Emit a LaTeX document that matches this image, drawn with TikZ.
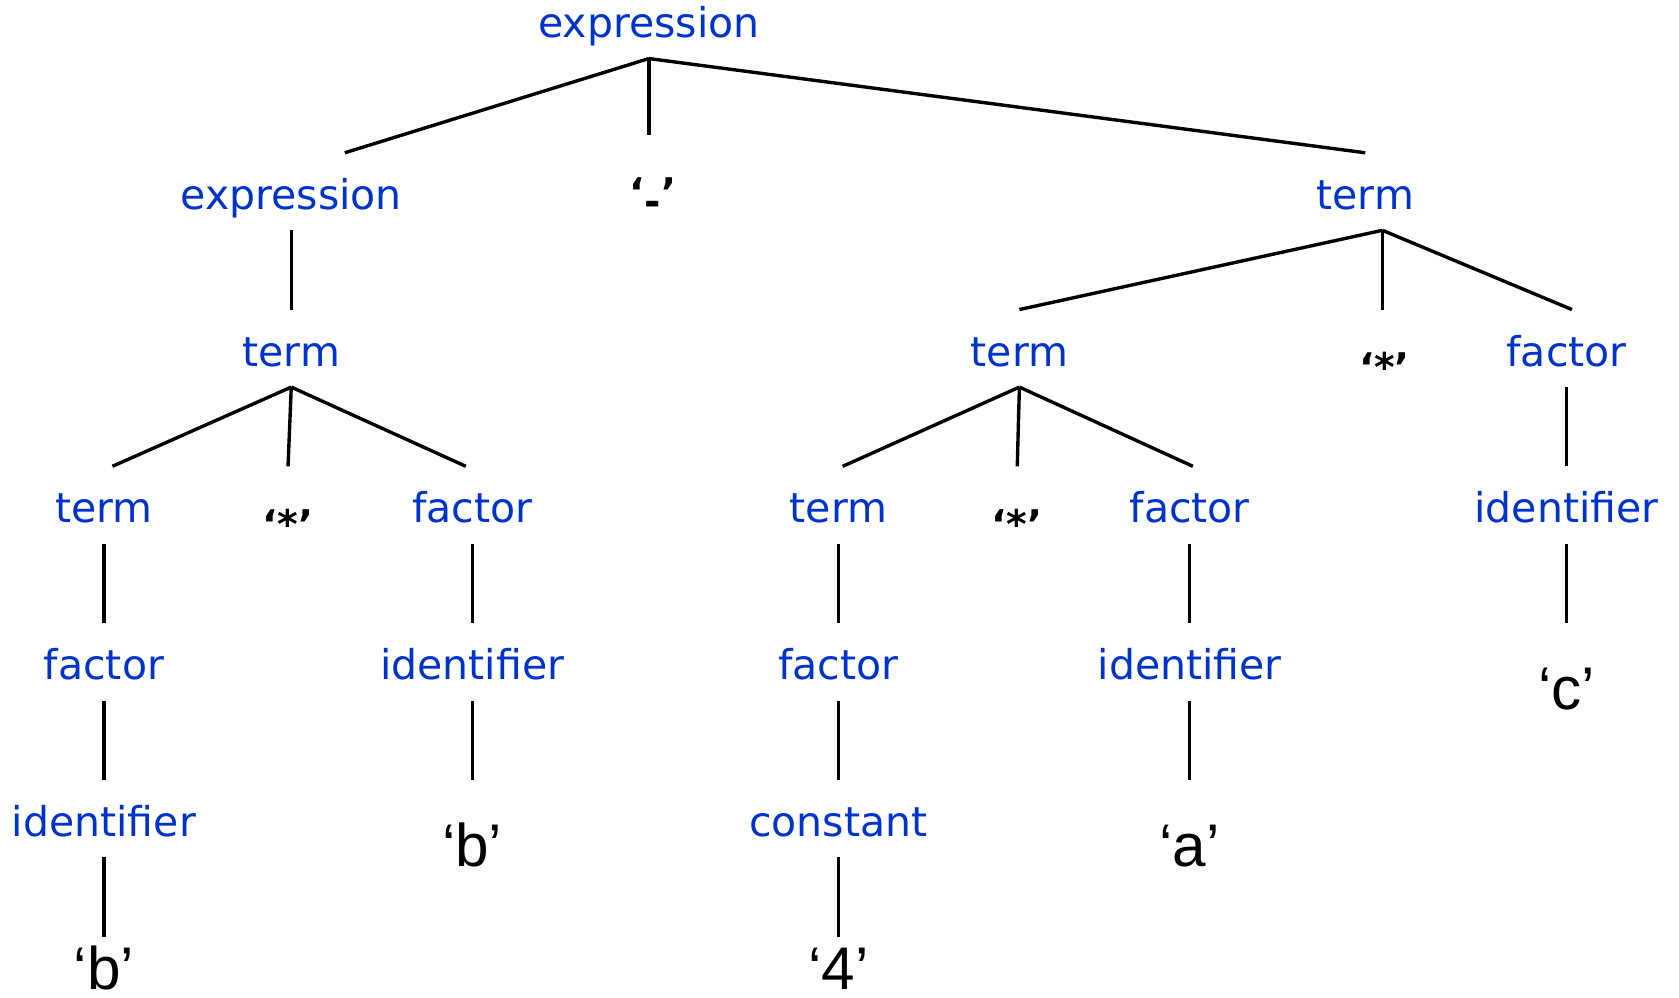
\documentclass[tikz,border=0pt]{standalone}
\usepackage{fontspec}
\usepackage{xcolor}
\usepackage{tikz}
\usetikzlibrary{positioning}
\newfontfamily\catfont{DejaVu Sans}
\newfontfamily\leaffont{Liberation Sans}
\definecolor{catblue}{RGB}{0,51,204}

\begin{document}
\begin{tikzpicture}[
  node distance=7.4mm,
  cat/.style={text=catblue, font=\catfont\fontsize{10.9}{13}\selectfont, text height=12.1pt, text depth=2.7pt, inner ysep=2.7pt, inner xsep=0pt},
  tok/.style={font=\catfont\bfseries\fontsize{10.5}{13}\selectfont, text height=16.3pt, text depth=0pt, inner ysep=2.7pt, inner xsep=0pt},
  leaf/.style={font=\leaffont\fontsize{16}{19}\selectfont, text height=22.7pt, text depth=0pt, inner ysep=0pt, inner xsep=0pt},
  link/.style={line width=0.9pt}
]
  \useasboundingbox (0,0) rectangle (15.68,-9.32);

  \node[cat, anchor=base] (expr) at (6.06,-0.35) {expression};
  \node[cat, below=8.8mm of expr, xshift=-33.4mm] (exprL) {expression};
  \node[tok, below=7.1mm of expr, xshift=0.4mm] (minus) {‘\raisebox{-0.22em}{-}’};
  \node[cat, below=8.8mm of expr, xshift=66.9mm] (termR) {term};

  % left side
  \node[cat, below=of exprL] (termL) {term};
  \node[cat, below=of termL, xshift=-17.5mm] (termLL) {term};
  \node[tok, below=of termL, xshift=-0.3mm] (starL) {‘*’};
  \node[cat, below=of termL, xshift=16.9mm] (factorL) {factor};
  \node[cat, below=of termLL] (factorLL) {factor};
  \node[cat, below=of factorLL] (identLL) {identifier};
  \node[leaf, below=of identLL, text height=13.8pt] (bLL) {‘b’};
  \node[cat, below=of factorL] (identL) {identifier};
  \node[leaf, below=of identL] (bL) {‘b’};

  % right side
  \node[cat, below=of termR, xshift=-32.3mm] (termM) {term};
  \node[tok, below=of termR, xshift=1.8mm] (starR) {‘*’};
  \node[cat, below=of termR, xshift=18.8mm] (factorR) {factor};
  \node[cat, below=of factorR] (identR) {identifier};
  \node[leaf, below=of identR] (cR) {‘c’};
  \node[cat, below=of termM, xshift=-16.9mm] (termMM) {term};
  \node[tok, below=of termM, xshift=-0.2mm] (starM) {‘*’};
  \node[cat, below=of termM, xshift=15.9mm] (factorM) {factor};
  \node[cat, below=of termMM] (factorMM) {factor};
  \node[cat, below=of factorMM] (constMM) {constant};
  \node[leaf, below=of constMM, text height=13.8pt] (fourMM) {‘4’};
  \node[cat, below=of factorM] (identM) {identifier};
  \node[leaf, below=of identM] (aM) {‘a’};

  \draw[link] (expr.south) -- ([xshift=5mm]exprL.north);
  \draw[link] (expr.south) -- (expr.south |- minus.north);
  \draw[link] (expr.south) -- (termR.north);

  \draw[link] (exprL) -- (termL);
  \draw[link] (termL.south) -- ([xshift=0.8mm]termLL.north);
  \draw[link] (termL.south) -- (starL.north);
  \draw[link] (termL.south) -- ([xshift=-0.6mm]factorL.north);
  \draw[link] (termLL) -- (factorLL);
  \draw[link] (factorLL) -- (identLL);
  \draw[link] (identLL) -- (bLL);
  \draw[link] (factorL) -- (identL);
  \draw[link] (identL) -- (bL);

  \draw[link] ([xshift=1.6mm]termR.south) -- (termM.north);
  \draw[link] ([xshift=1.6mm]termR.south) -- ([xshift=-0.2mm]starR.north);
  \draw[link] ([xshift=1.6mm]termR.south) -- ([xshift=0.5mm]factorR.north);
  \draw[link] (factorR) -- (identR);
  \draw[link] (identR) -- (cR);
  \draw[link] (termM.south) -- ([xshift=0.4mm]termMM.north);
  \draw[link] (termM.south) -- (starM.north);
  \draw[link] (termM.south) -- ([xshift=0.3mm]factorM.north);
  \draw[link] (termMM) -- (factorMM);
  \draw[link] (factorMM) -- (constMM);
  \draw[link] (constMM) -- (fourMM);
  \draw[link] (factorM) -- (identM);
  \draw[link] (identM) -- (aM);
\end{tikzpicture}
\end{document}
